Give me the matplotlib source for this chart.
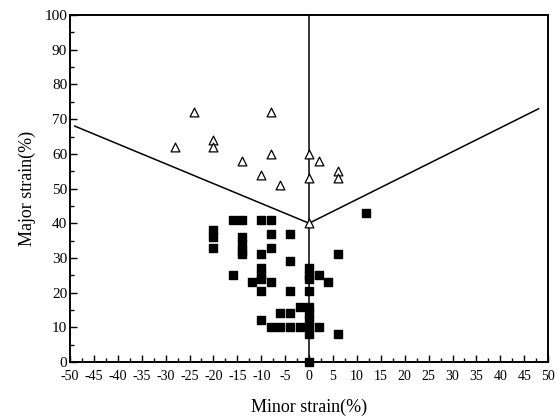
import matplotlib
matplotlib.use("Agg")
import matplotlib.pyplot as plt
from matplotlib.ticker import MultipleLocator

plt.rcParams['font.family'] = ['Liberation Serif', 'DejaVu Serif']

# open triangles (fractured / necked)
tri_minor = [-24, -8, -28, -20, -20, -14, -8, 0, 2, 6, 6, -10, -6, 0, 0]
tri_major = [72, 72, 62, 64, 62, 58, 60, 60, 58, 55, 53, 54, 51, 53, 40]

# filled squares (safe)
sq_minor = [-16, -14, -10, -8, -20, -20, -20, -14, -14, -14, -14, -8, -4, -8,
            -10, -4, 6, 12, -16, -10, -10, -10, -12, -8, -10, -4,
            0, 0, 0, 2, 4, 0, -2, -6, -4, -10, -8, -6, -4, -2,
            0, 0, 0, 0, 0, 2, 6, 0]
sq_major = [41, 41, 41, 41, 38, 36, 33, 36, 34, 32, 31, 37, 37, 33,
            31, 29, 31, 43, 25, 27, 25, 24, 23, 23, 20.5, 20.5,
            27, 25, 24, 25, 23, 20.5, 16, 14, 14, 12, 10, 10, 10, 10,
            16, 14, 12, 10, 8, 10, 8, 0]

# forming limit curve
flc_minor = [-49, 0, 48]
flc_major = [68, 40, 73]

x_ticks = list(range(-50, 55, 5))
y_ticks = list(range(0, 110, 10))

fig = plt.figure(figsize=(5.58, 4.19), dpi=100)
ax = fig.add_axes([0.1254, 0.136, 0.857, 0.828])

ax.plot(flc_minor, flc_major, color='black', lw=1.1)
ax.plot([0, 0], [0, 100], color='black', lw=1.1)
ax.scatter(sq_minor, sq_major, marker='s', s=28, color='black', zorder=3, clip_on=False)
ax.scatter(tri_minor, tri_major, marker='^', s=40, facecolors='white',
           edgecolors='black', linewidths=0.9, zorder=4)

ax.set_xlim(-50, 50)
ax.set_ylim(0, 100)
ax.set_xticks(x_ticks, [f"{v}" for v in x_ticks])
ax.set_yticks(y_ticks, [f"{v}" for v in y_ticks])
ax.xaxis.set_minor_locator(MultipleLocator(2.5))
ax.yaxis.set_minor_locator(MultipleLocator(5))
ax.tick_params(which='both', direction='in', width=1)
ax.tick_params(which='major', length=5)
ax.tick_params(which='minor', length=3)
ax.tick_params(axis='x', labelsize=10, pad=6)
ax.tick_params(axis='y', labelsize=11, pad=2)
for s in ax.spines.values():
    s.set_linewidth(1.4)

ax.set_xlabel("Minor strain(%)", fontsize=13, labelpad=11)
ax.set_ylabel("Major strain(%)", fontsize=13, labelpad=6)

fig.savefig("out.png", dpi=100)
